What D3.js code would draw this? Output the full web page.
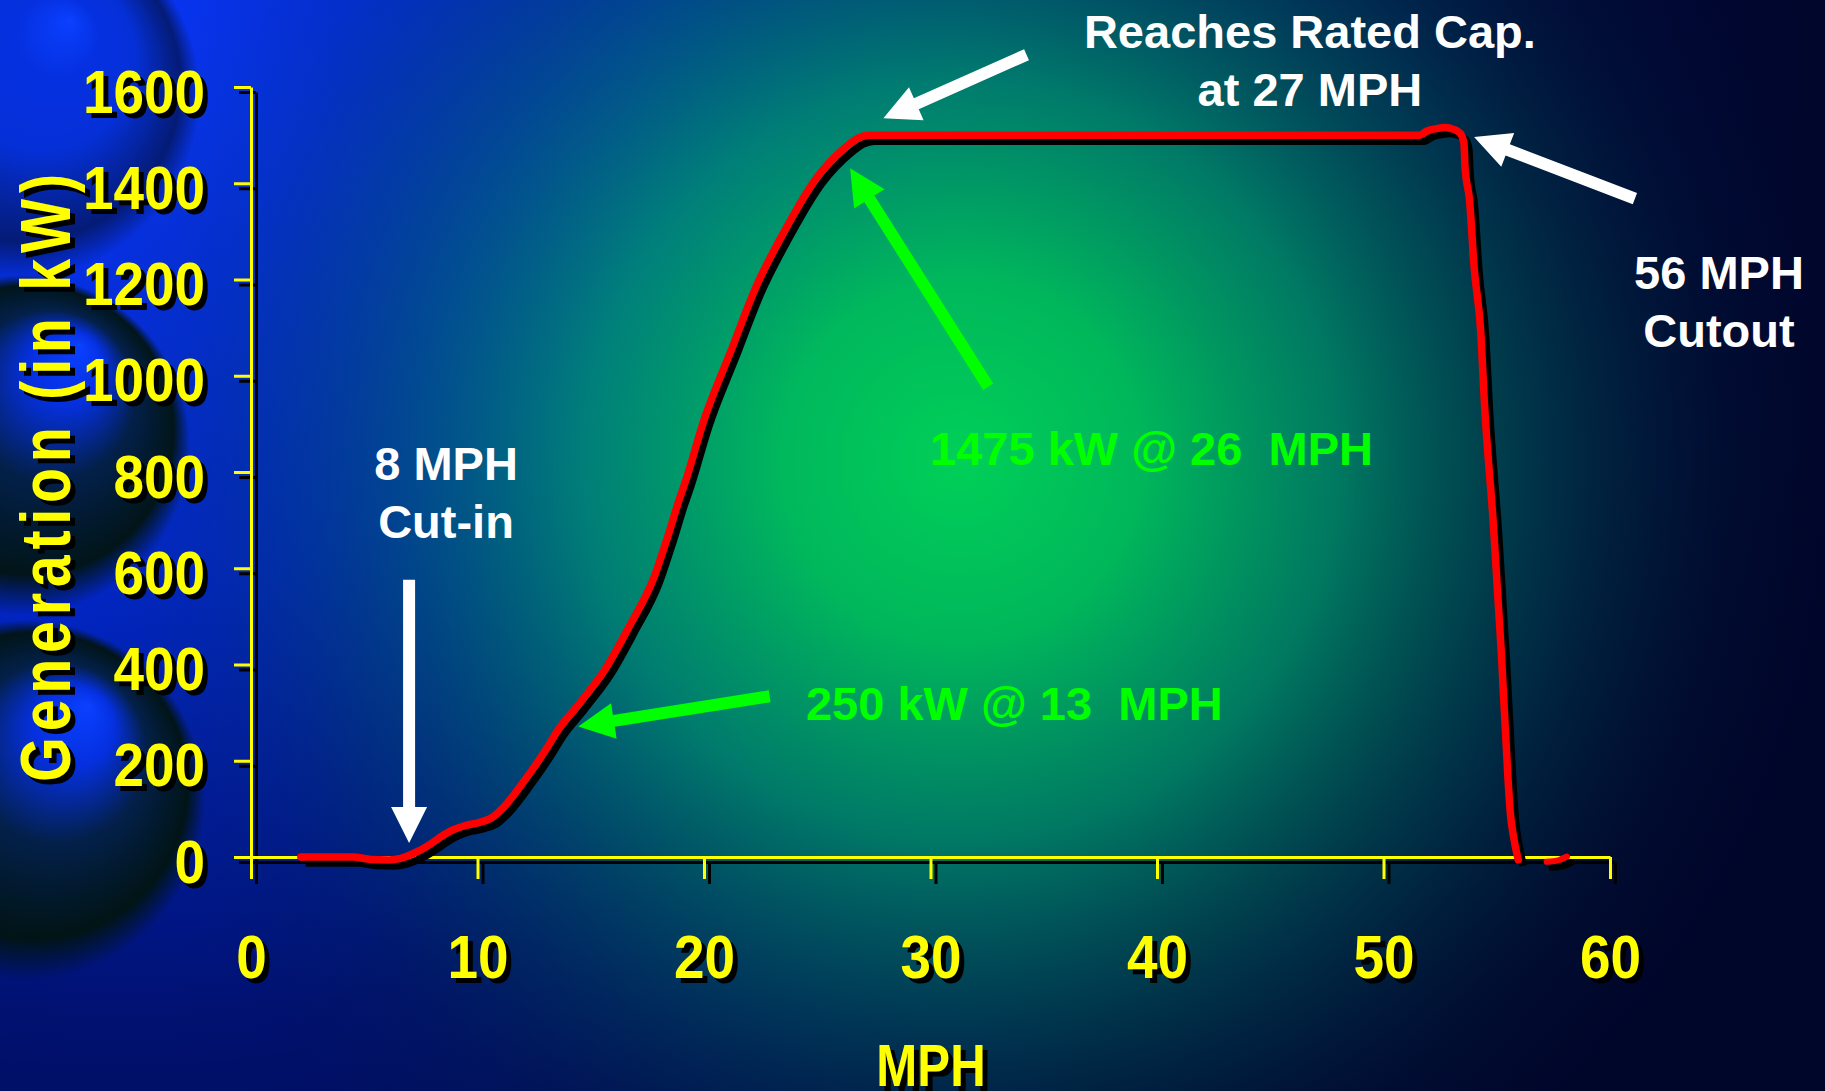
<!DOCTYPE html>
<html>
<head>
<meta charset="utf-8">
<script src="https://cdn.jsdelivr.net/npm/d3@7"></script>
<style>
  html, body { margin: 0; padding: 0; background: #000a30; overflow: hidden; }
  svg { display: block; }
  .narrow { font-family: "Liberation Sans", Arial, Helvetica, sans-serif; font-weight: bold; }
  .note { font-family: "Liberation Sans", Arial, Helvetica, sans-serif; font-weight: bold; white-space: pre; }
</style>
</head>
<body>
<script>
const W = 1825, H = 1091
const SQ = 0.82     // horizontal squeeze to fake a narrow bold face (titles)
const SQ_TICK = 0.9 // tick labels are a bit wider

// power curve (MPH -> kW)
const mph = [2.2, 4.5, 5.3, 6.1, 6.6, 7.5, 8.9, 9.5, 10.1, 10.7, 11.1, 12.2, 13.1, 13.5, 14.5, 15.7,
  16.7, 17.8, 18.4, 18.9, 19.2, 20.0, 21.2, 22.3, 23.5, 25.0, 26.2, 26.8, 27.3, 51.6, 51.9, 52.4,
  52.7, 53.1, 53.4, 53.55, 53.6, 53.8, 54.0, 54.3, 54.45, 54.85, 55.2, 55.5, 55.6, 55.75, 55.95]
const kw = [0, 0, -5, -6, -3, 15, 56, 66, 72, 84, 101, 167, 229, 260, 319, 395,
  479, 582, 666, 742, 783, 908, 1053, 1185, 1296, 1413, 1473, 1494, 1500, 1500, 1508, 1514,
  1516, 1512, 1503, 1483, 1434, 1364, 1226, 1087, 948, 692, 426, 160, 91, 40, -6]
// the little stray blob after cut-out
const tailMph = [57.2, 57.7, 58.1]
const tailKw = [-10, -7, 1]

const xTicks = [0, 10, 20, 30, 40, 50, 60]
const yTicks = [0, 200, 400, 600, 800, 1000, 1200, 1400, 1600]

// annotations: [mph, kW] ends
const arrows = [
  { from: [6.98, 576], to: [6.98, 29], color: "#ffffff" },
  { from: [22.9, 334], to: [14.45, 271], color: "#00ff00" },
  { from: [32.55, 977], to: [26.45, 1431], color: "#00ff00" },
  { from: [34.24, 1667], to: [27.92, 1535], color: "#ffffff" },
  { from: [61.1, 1368], to: [54.0, 1496], color: "#ffffff" }
]
const notes = [
  { lines: ["Reaches Rated Cap.", "at 27 MPH"], at: [46.75, 1681], color: "#ffffff", anchor: "middle" },
  { lines: ["56 MPH", "Cutout"], at: [64.81, 1180], color: "#ffffff", anchor: "middle" },
  { lines: ["8 MPH", "Cut-in"], at: [8.61, 783], color: "#ffffff", anchor: "middle" },
  { lines: ["250 kW @ 13  MPH"], at: [24.5, 285], color: "#00ff00", anchor: "start" },
  { lines: ["1475 kW @ 26  MPH"], at: [29.98, 814], color: "#00ff00", anchor: "start" }
]

const svg = d3.select("body").append("svg").attr("width", W).attr("height", H)
const defs = svg.append("defs")

// ---- background ----
function radial(id, cx, cy, r, stops, fx, fy) {
  const g = defs.append("radialGradient").attr("id", id)
    .attr("gradientUnits", "userSpaceOnUse")
    .attr("cx", cx).attr("cy", cy).attr("r", r)
    .attr("fx", fx == null ? cx : fx).attr("fy", fy == null ? cy : fy)
  stops.forEach(s => g.append("stop").attr("offset", s[0]).attr("stop-color", s[1]).attr("stop-opacity", s[2] == null ? 1 : s[2]))
  return "url(#" + id + ")"
}

svg.append("rect").attr("width", W).attr("height", H)
  .attr("fill", radial("bgBlue", 120, 60, 1750, [[0, "#0836f5"], [0.3, "#0226c8"], [0.55, "#001170"], [0.8, "#000838"], [1, "#00052a"]]))
svg.append("rect").attr("width", W).attr("height", H)
  .attr("fill", radial("bgGreen", 960, 460, 900, [[0, "#00d058", 1], [0.2, "#00c05a", 0.95], [0.42, "#009868", 0.78], [0.65, "#005c5a", 0.48], [0.85, "#003246", 0.15], [1, "#002040", 0]]))

// spheres down the left edge
const spheres = [
  { cx: 15, cy: 95, r: 185, hx: 70, hy: 20, mid: "#0530d8", rim: "#041a70" },
  { cx: 20, cy: 445, r: 170, hx: 80, hy: 345, mid: "#03204a", rim: "#011410" },
  { cx: 25, cy: 800, r: 180, hx: 88, hy: 705, mid: "#03204a", rim: "#011410" }
]
spheres.forEach((s, i) => {
  svg.append("circle").attr("cx", s.cx).attr("cy", s.cy).attr("r", s.r)
    .attr("fill", radial("sph" + i, s.cx, s.cy, s.r,
      [[0, "#0a40ff"], [0.22, "#0530e0"], [0.5, s.mid], [0.85, s.rim, 0.95], [1, s.rim, 0]], s.hx, s.hy))
})

// ---- scales ----
const x = d3.scaleLinear().domain([0, 60]).range([251, 1610])
const y = d3.scaleLinear().domain([0, 1600]).range([857, 87])

function squeeze(sel, k) {
  sel.each(function () {
    const t = d3.select(this)
    t.attr("x", (+t.attr("x") || 0) / k).attr("transform", `scale(${k},1)`)
  })
}

function drawAxes(g, color) {
  const ax = g.append("g").attr("transform", `translate(0,${y(0)})`)
    .call(d3.axisBottom(x).tickValues(xTicks).tickFormat(d3.format("d"))
      .tickSizeInner(22).tickSizeOuter(0).tickPadding(56))
  const ay = g.append("g").attr("transform", `translate(${x(0)},0)`)
    .call(d3.axisLeft(y).tickValues(yTicks).tickFormat(d3.format("d"))
      .tickSizeInner(17).tickSizeOuter(0).tickPadding(29))
  ;[ax, ay].forEach(a => {
    a.select(".domain").attr("stroke", color).attr("stroke-width", 3)
    a.selectAll(".tick line").attr("stroke", color).attr("stroke-width", 3)
    a.selectAll(".tick text").attr("class", "narrow").attr("fill", color).style("font-size", "61px")
      .call(squeeze, SQ_TICK)
  })
  ay.selectAll(".tick text").attr("dy", "0.41em")
}

drawAxes(svg.append("g").attr("transform", "translate(5,5)"), "#000")
drawAxes(svg.append("g"), "#ffff00")

// axis titles, each with a black drop shadow
;[["#000", 5], ["#ffff00", 0]].forEach(([c, o]) => {
  svg.append("text").attr("class", "narrow").attr("fill", c)
    .attr("transform", `translate(${70 + o},${475 + o}) rotate(-90) scale(${SQ},1)`)
    .attr("text-anchor", "middle").style("font-size", "70px").style("letter-spacing", "7px")
    .text("Generation (in kW)")
  svg.append("text").attr("class", "narrow").attr("fill", c)
    .attr("transform", `translate(${931 + o},${1086 + o}) scale(${SQ},1)`)
    .attr("text-anchor", "middle").style("font-size", "60px")
    .text("MPH")
})

// ---- power curve ----
const pts = mph.map((m, i) => [m, kw[i]])
const tailPts = tailMph.map((m, i) => [m, tailKw[i]])
const line = d3.line().x(d => x(d[0])).y(d => y(d[1])).curve(d3.curveMonotoneX)

const curve = svg.append("g")
curve.append("path").attr("d", line(pts)).attr("transform", "translate(5,6)")
  .attr("fill", "none").attr("stroke", "#000").attr("stroke-width", 7.5).attr("stroke-linejoin", "round")
curve.append("path").attr("d", line(tailPts)).attr("transform", "translate(5,6)")
  .attr("fill", "none").attr("stroke", "#000").attr("stroke-width", 6).attr("stroke-linecap", "round")
curve.append("path").attr("d", line(pts))
  .attr("fill", "none").attr("stroke", "#ff0000").attr("stroke-width", 7.5)
  .attr("stroke-linejoin", "round").attr("stroke-linecap", "round")
curve.append("path").attr("d", line(tailPts))
  .attr("fill", "none").attr("stroke", "#ff0000").attr("stroke-width", 6).attr("stroke-linecap", "round")

// ---- annotation arrows ----
function arrowPath(a) {
  const x0 = x(a.from[0]), y0 = y(a.from[1]), x1 = x(a.to[0]), y1 = y(a.to[1])
  const len = Math.hypot(x1 - x0, y1 - y0)
  const ux = (x1 - x0) / len, uy = (y1 - y0) / len
  const nx = -uy, ny = ux
  const sw = 6, hw = 18, hl = 36
  const bx = x1 - ux * hl, by = y1 - uy * hl
  const p = [
    [x0 + nx * sw, y0 + ny * sw],
    [bx + nx * sw, by + ny * sw],
    [bx + nx * hw, by + ny * hw],
    [x1, y1],
    [bx - nx * hw, by - ny * hw],
    [bx - nx * sw, by - ny * sw],
    [x0 - nx * sw, y0 - ny * sw]
  ]
  return "M" + p.map(q => q.join(",")).join("L") + "Z"
}
svg.append("g").selectAll("path").data(arrows).join("path")
  .attr("d", arrowPath).attr("fill", d => d.color)

// ---- annotation text ----
const noteG = svg.append("g")
notes.forEach(n => {
  const t = noteG.append("text").attr("class", "note")
    .attr("x", x(n.at[0])).attr("y", y(n.at[1]))
    .attr("fill", n.color).attr("text-anchor", n.anchor).style("font-size", "47px")
  n.lines.forEach((l, i) => {
    t.append("tspan").attr("x", x(n.at[0])).attr("dy", i === 0 ? 0 : 58).text(l)
  })
})
</script>
</body>
</html>
